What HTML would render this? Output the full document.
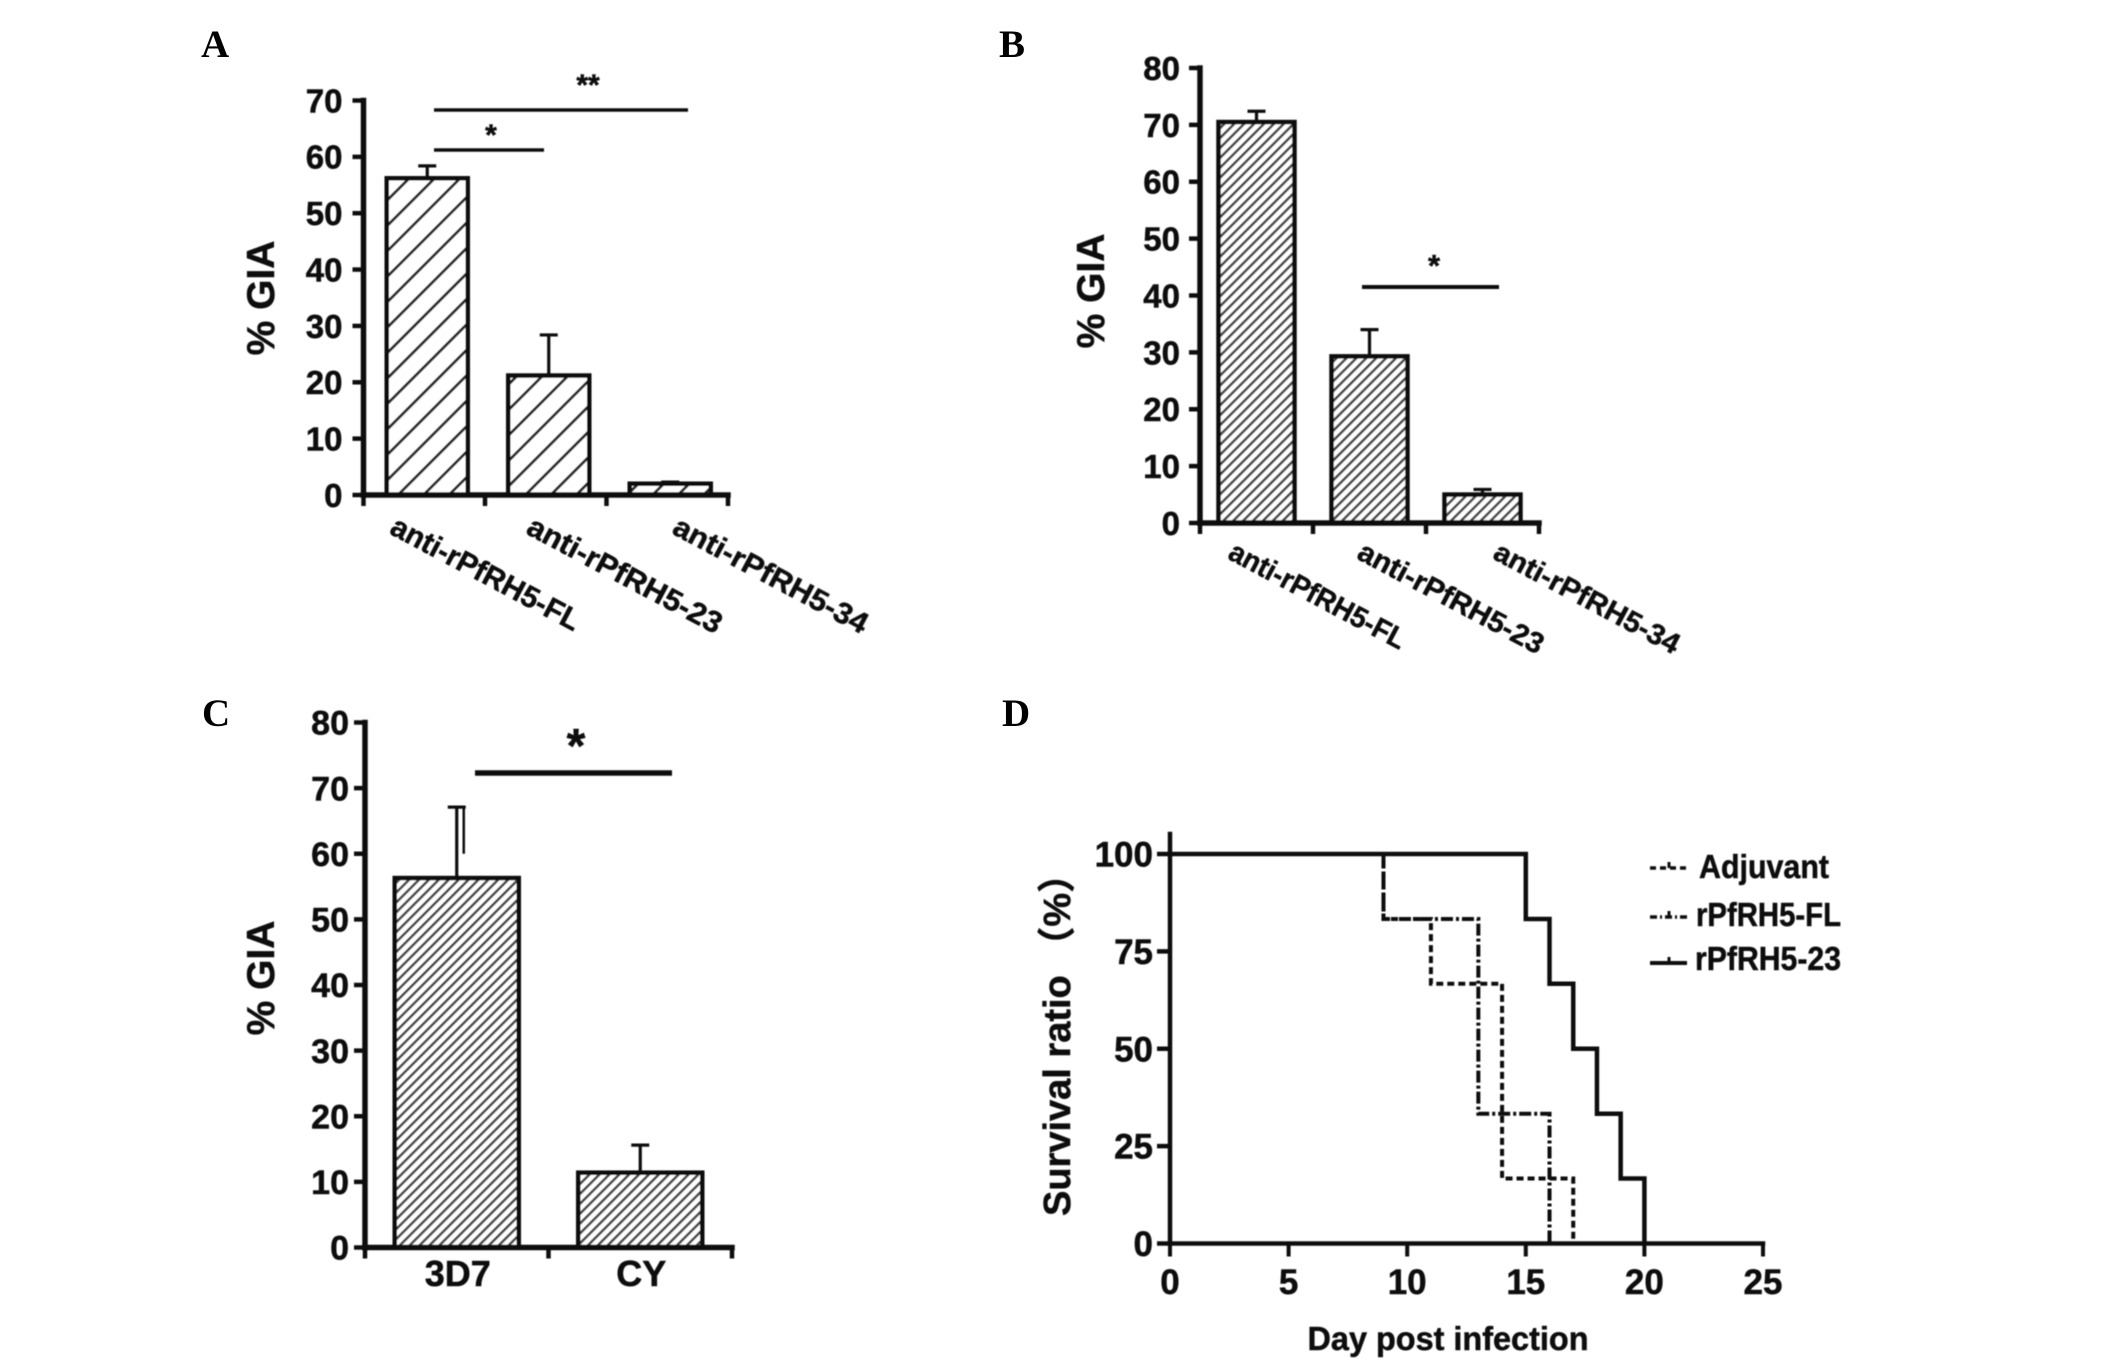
<!DOCTYPE html>
<html lang="en">
<head>
<meta charset="utf-8">
<title>Panels A-D: % GIA bars and survival curves</title>
<style>
html,body{margin:0;padding:0;background:#fff;}
svg{display:block;}
text{font-family:"Liberation Sans","Noto Sans CJK SC",sans-serif;font-weight:bold;fill:#111;stroke:#111;stroke-width:.5;}
.panel-letter{font-family:"Liberation Serif","Noto Serif CJK SC",serif;font-size:39px;fill:#000;stroke:none;}
</style>
</head>
<body>
<svg id="figure" xmlns="http://www.w3.org/2000/svg" width="2125" height="1372" viewBox="0 0 2125 1372">
  <defs>
    <filter id="soft" x="-5%" y="-5%" width="110%" height="110%"><feGaussianBlur stdDeviation="0.55"/></filter>
    <pattern id="hatch-wide" width="18" height="18" patternUnits="userSpaceOnUse" patternTransform="rotate(45)">
      <rect width="18" height="18" fill="#fff"/><rect x="0" y="0" width="2.8" height="18" fill="#222"/>
    </pattern>
    <pattern id="hatch-dense" width="7" height="7" patternUnits="userSpaceOnUse" patternTransform="rotate(45)">
      <rect width="7" height="7" fill="#fff"/><rect x="0" y="0" width="2.6" height="7" fill="#444"/>
    </pattern>
  </defs>

  <text class="panel-letter" x="201" y="57">A</text>
  <text class="panel-letter" x="999" y="57">B</text>
  <text class="panel-letter" x="202" y="726">C</text>
  <text class="panel-letter" x="1002" y="726">D</text>

  <g id="panel-a" filter="url(#soft)">
    <text font-size="39" text-anchor="middle" transform="translate(274,298) rotate(-90)">% GIA</text>
    <line x1="434" x2="688" y1="110" y2="110" stroke="#111" stroke-width="3.5"/>
    <line x1="434" x2="544" y1="150" y2="150" stroke="#111" stroke-width="3.5"/>
    <text font-size="30" text-anchor="middle" x="588" y="95">**</text>
    <text font-size="30" text-anchor="middle" x="491" y="145">*</text>
  </g>

  <g id="panel-b" filter="url(#soft)">
    <text font-size="39" text-anchor="middle" transform="translate(1104,291) rotate(-90)">% GIA</text>
    <line x1="1362" x2="1499" y1="287" y2="287" stroke="#111" stroke-width="4"/>
    <text font-size="31" text-anchor="middle" x="1434" y="276">*</text>
  </g>

  <g id="panel-c" filter="url(#soft)">
    <text font-size="39" text-anchor="middle" transform="translate(274,978) rotate(-90)">% GIA</text>
    <line x1="475" x2="672" y1="773" y2="773" stroke="#111" stroke-width="5.5"/>
    <text font-size="48" text-anchor="middle" x="576" y="762">*</text>
  </g>

  <g id="panel-d" filter="url(#soft)">
    <text font-size="38" transform="translate(1070,1216) rotate(-90)">Survival ratio （%）</text>
    <text font-size="33" text-anchor="middle" textLength="281" lengthAdjust="spacingAndGlyphs" x="1448" y="1350">Day post infection</text>
    <g>
      <g>
        <line x1="1650" x2="1687" y1="868" y2="868" stroke="#111" stroke-width="3.5" stroke-dasharray="6 4"/>
        <line x1="1669" x2="1669" y1="862" y2="868" stroke="#111" stroke-width="3"/>
        <text font-size="33" x="1699" y="878" textLength="130" lengthAdjust="spacingAndGlyphs">Adjuvant</text>
      </g>
      <g>
        <line x1="1650" x2="1687" y1="917" y2="917" stroke="#111" stroke-width="3.5" stroke-dasharray="7 3 2 3"/>
        <line x1="1669" x2="1669" y1="911" y2="917" stroke="#111" stroke-width="3"/>
        <text font-size="33" x="1696" y="926" textLength="145" lengthAdjust="spacingAndGlyphs">rPfRH5-FL</text>
      </g>
      <g>
        <line x1="1650" x2="1687" y1="963" y2="963" stroke="#111" stroke-width="4"/>
        <line x1="1669" x2="1669" y1="957" y2="963" stroke="#111" stroke-width="3"/>
        <text font-size="33" x="1695" y="970" textLength="146" lengthAdjust="spacingAndGlyphs">rPfRH5-23</text>
      </g>
    </g>
  </g>
</svg>

<script>
// Panel A data
const panelACategories = ['anti-rPfRH5-FL', 'anti-rPfRH5-23', 'anti-rPfRH5-34'];
const panelAValues = [56.2, 21.2, 2];
const panelAErrors = [2.2, 7.2, 0.3];
const panelATicks = [0, 10, 20, 30, 40, 50, 60, 70];

// Panel B data
const panelBCategories = ['anti-rPfRH5-FL', 'anti-rPfRH5-23', 'anti-rPfRH5-34'];
const panelBValues = [70.5, 29.3, 5];
const panelBErrors = [1.9, 4.7, 0.9];
const panelBTicks = [0, 10, 20, 30, 40, 50, 60, 70, 80];

// Panel C data
const panelCCategories = ['3D7', 'CY'];
const panelCValues = [56.3, 11.4];
const panelCErrors = [10.8, 4.2];
const panelCTicks = [0, 10, 20, 30, 40, 50, 60, 70, 80];

// Panel D data
const panelDXTicks = [0, 5, 10, 15, 20, 25];
const panelDYTicks = [0, 25, 50, 75, 100];
const adjuvantDays = [0, 9, 11, 14, 17];
const adjuvantSurvival = [100, 83.3, 66.7, 16.7, 0];
const flDays = [0, 9, 13, 16];
const flSurvival = [100, 83.3, 33.3, 0];
const rh23Days = [0, 15, 16, 17, 18, 19, 20];
const rh23Survival = [100, 83.3, 66.7, 50, 33.3, 16.7, 0];

const NS = 'http://www.w3.org/2000/svg';
const INK = '#111';

function shape(parent, tag, attrs) {
  const el = document.createElementNS(NS, tag);
  Object.keys(attrs).forEach(function (k) { el.setAttribute(k, attrs[k]); });
  parent.appendChild(el);
  return el;
}

function axisLine(parent, x1, y1, x2, y2, width) {
  const el = shape(parent, 'line', {x1: x1, y1: y1, x2: x2, y2: y2, stroke: INK, 'stroke-width': width, 'stroke-linecap': 'square'});
  
  
  return el;
}

function yTicks(parent, ticks, yScale, axisX, tickLen, labelGap, fontSize) {
  ticks.forEach(function (t) {
    const mark = shape(parent, 'line', {x1: axisX - tickLen, x2: axisX, y1: yScale(t), y2: yScale(t), stroke: INK, 'stroke-width': 4.5});
    
    
    const label = shape(parent, 'text', {x: axisX - labelGap, y: yScale(t) + fontSize * 0.36, 'font-size': fontSize, 'text-anchor': 'end'});
    label.textContent = String(t);
    
    
  });
}

function barPanel(o) {
  const root = document.getElementById(o.id);
  const yScale = function (v) { return o.y0 - v * (o.y0 - o.yTop) / o.yMax; };
  const band = (o.xRight - o.xLeft) / o.categories.length;
  const xCenter = function (i) { return o.xLeft + band * (i + 0.5) + o.barShift; };

  o.values.forEach(function (v, i) {
    const cx = xCenter(i);
    const top = yScale(v + o.errors[i]);
    const stem = shape(root, 'line', {x1: cx, x2: cx, y1: yScale(v), y2: top, stroke: INK, 'stroke-width': 3.2});
    
    
    const cap = shape(root, 'line', {x1: cx - o.capHalf, x2: cx + o.capHalf, y1: top, y2: top, stroke: INK, 'stroke-width': 3.2});
    
    
    const bar = shape(root, 'rect', {x: cx - o.barW / 2, y: yScale(v), width: o.barW, height: o.y0 - yScale(v), fill: 'url(#' + o.hatch + ')', stroke: INK, 'stroke-width': 4.5});
    
    
  });

  axisLine(root, o.xLeft, o.yTop, o.xLeft, o.y0, 5.5);
  axisLine(root, o.xLeft, o.y0, o.xRight, o.y0, 5.5);
  yTicks(root, o.ticks, yScale, o.xLeft, 11, o.labelGap, o.tickFont);

  for (let i = 0; i <= o.categories.length; i++) {
    const tx = o.xLeft + band * i;
    const mark = shape(root, 'line', {x1: tx, x2: tx, y1: o.y0, y2: o.y0 + 11, stroke: INK, 'stroke-width': 4.5});
    
    
  }
  return {root: root, xCenter: xCenter, yScale: yScale};
}

function slantedLabels(root, categories, xCenter, layout) {
  categories.forEach(function (c, i) {
    const x = xCenter(i) + layout.dx[i];
    const label = shape(root, 'text', {'font-size': layout.font, textLength: layout.len[i], lengthAdjust: 'spacingAndGlyphs', transform: 'translate(' + x + ',' + layout.y + ') rotate(' + layout.angle + ')'});
    label.textContent = c;
    
    
  });
}

const chartA = barPanel({id: 'panel-a', categories: panelACategories, values: panelAValues, errors: panelAErrors, ticks: panelATicks,
  xLeft: 363.5, xRight: 728, y0: 495, yTop: 100.5, yMax: 70, barW: 81, capHalf: 9, barShift: 3, hatch: 'hatch-wide', tickFont: 33, labelGap: 21});
slantedLabels(chartA.root, panelACategories, chartA.xCenter, {dx: [-39, -24, 0.5], len: [210, 216, 216], y: 533, angle: 28, font: 30});

const chartB = barPanel({id: 'panel-b', categories: panelBCategories, values: panelBValues, errors: panelBErrors, ticks: panelBTicks,
  xLeft: 1200, xRight: 1539, y0: 523, yTop: 68, yMax: 80, barW: 76, capHalf: 9, barShift: 0, hatch: 'hatch-dense', tickFont: 33, labelGap: 20});
slantedLabels(chartB.root, panelBCategories, chartB.xCenter, {dx: [-30, -14, 9], len: [196, 206, 206], y: 558, angle: 28, font: 29});

const chartC = barPanel({id: 'panel-c', categories: panelCCategories, values: panelCValues, errors: panelCErrors, ticks: panelCTicks,
  xLeft: 365, xRight: 732, y0: 1247.5, yTop: 722.5, yMax: 80, barW: 124, capHalf: 9, barShift: 0, hatch: 'hatch-dense', tickFont: 34, labelGap: 16});
panelCCategories.forEach(function (c, i) {
  const label = shape(chartC.root, 'text', {x: chartC.xCenter(i) + 1, y: 1286, 'font-size': 36, 'text-anchor': 'middle'});
  label.textContent = c;
  
  
});
const secondStem = shape(chartC.root, 'line', {x1: chartC.xCenter(0) + 7, x2: chartC.xCenter(0) + 7,
  y1: chartC.yScale(panelCValues[0] + panelCErrors[0]), y2: chartC.yScale(60), stroke: INK, 'stroke-width': 2.5});



// Panel D
const rootD = document.getElementById('panel-d');
const dX = function (day) { return 1170 + day * (1763 - 1170) / 25; };
const dY = function (pct) { return 1243.5 - pct * (1243.5 - 854) / 100; };

function stepPath(days, values) {
  let d = 'M' + dX(days[0]) + ' ' + dY(values[0]);
  for (let i = 1; i < days.length; i++) {
    d += ' H' + dX(days[i]) + ' V' + dY(values[i]);
  }
  return d;
}

const curveAdjuvant = shape(rootD, 'path', {d: stepPath(adjuvantDays, adjuvantSurvival), fill: 'none', stroke: INK, 'stroke-width': 4, 'stroke-dasharray': '7 4'});


const curveFl = shape(rootD, 'path', {d: stepPath(flDays, flSurvival), fill: 'none', stroke: INK, 'stroke-width': 4, 'stroke-dasharray': '12 3 3 3'});


const curve23 = shape(rootD, 'path', {d: stepPath(rh23Days, rh23Survival), fill: 'none', stroke: INK, 'stroke-width': 4.5});



axisLine(rootD, dX(0), 834, dX(0), dY(0), 4.5);
axisLine(rootD, dX(0), dY(0), dX(25), dY(0), 4.5);
yTicks(rootD, panelDYTicks, dY, dX(0), 13, 17, 35);
panelDXTicks.forEach(function (t) {
  const mark = shape(rootD, 'line', {x1: dX(t), x2: dX(t), y1: dY(0), y2: dY(0) + 13, stroke: INK, 'stroke-width': 4});
  
  
  const label = shape(rootD, 'text', {x: dX(t), y: 1294, 'font-size': 35, 'text-anchor': 'middle'});
  label.textContent = String(t);
  
  
});
</script>
</body>
</html>
